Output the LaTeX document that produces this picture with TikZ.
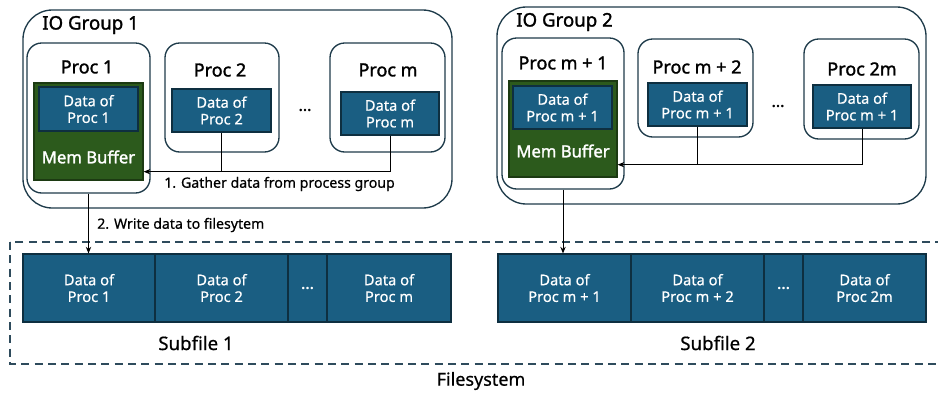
\documentclass[tikz,border=0pt]{standalone}
\usepackage{fontspec}
\setmainfont{Noto Sans}[BoldFont={Noto Sans}, BoldFeatures={FakeBold=1.6}]
\newfontfamily\medfam{Noto Sans}[FakeBold=0.6]
\usetikzlibrary{arrows.meta}
\definecolor{dblue}{HTML}{1A5E82}
\definecolor{dblueb}{HTML}{0E2F40}
\definecolor{dgreen}{HTML}{2C5A1C}
\definecolor{dgreenb}{HTML}{1C3A12}
\definecolor{grpb}{HTML}{1E3B4A}
\definecolor{dashc}{HTML}{2E4B5C}
\tikzset{
  sz/.style 2 args={minimum width=#1*0.75pt, minimum height=#2*0.75pt},
  grp/.style={draw=grpb, line width=1pt, rounded corners=22pt, inner sep=0pt},
  procbox/.style={draw=grpb, line width=1pt, rounded corners=11pt, inner sep=0pt},
  membox/.style={draw=dgreenb, fill=dgreen, line width=1pt, inner sep=0pt},
  databox/.style={draw=dblueb, fill=dblue, line width=1pt, inner sep=0pt, text=white,
     font=\medfam\fontsize{11}{12.5}\selectfont, align=center},
  cell/.style={draw=dblueb, fill=dblue, line width=0.8pt, inner sep=0pt, text=white,
     font=\medfam\fontsize{11}{12.5}\selectfont, align=center, minimum height=68*0.75pt},
  ttl/.style={font=\fontsize{13.5}{15}\selectfont\bfseries, inner sep=0pt},
  grpttl/.style={font=\fontsize{14}{15}\selectfont\bfseries, inner sep=0pt, anchor=west},
  memttl/.style={font=\fontsize{12.5}{14}\selectfont\bfseries, text=white, inner sep=0pt},
  lbl/.style={font=\medfam\fontsize{10.6}{12}\selectfont, inner sep=0pt, anchor=west},
  subttl/.style={font=\medfam\fontsize{14}{16}\selectfont, inner sep=0pt},
  conn/.style={draw=black, line width=0.75pt},
  arr/.style={conn, -{Stealth[length=5pt,width=4pt]}},
  dotsl/.style={font=\fontsize{12}{14}\selectfont\bfseries, inner sep=0pt},
}
\begin{document}
\begin{tikzpicture}[x=0.75pt,y=-0.75pt]
\useasboundingbox (0,0) rectangle (938,394);
% Filesystem
\draw[dashc, line width=1pt, dash pattern=on 6pt off 4pt] (10,242) rectangle (948,364);
\node[subttl, font=\medfam\fontsize{13.5}{15}\selectfont] (fs) at (481,381) {Filesystem};

% IO Group 1
\node[grp, sz={429}{198}] (g1) at (237.5,109) {};
\node[grpttl] (g1t) at (42,25) {IO Group 1};
\node[procbox, sz={123}{150}] (p1) at (88.5,118) {};
\node[ttl] (p1t) at (87,67) {Proc 1};
\node[membox, sz={109}{97}] (m1) at (88.5,131.5) {};
\node[databox, sz={99}{44}] (d1) at (88.5,109) {Data of\\Proc 1};
\node[memttl] (m1t) at (88.5,157) {Mem Buffer};
\node[procbox, sz={114}{109}] (p2) at (222,97.5) {};
\node[ttl] (p2t) at (220,70) {Proc 2};
\node[databox, sz={99}{43}] (d2) at (221.5,110.5) {Data of\\Proc 2};
\node[dotsl] (dt1) at (305,110) {...};
\node[procbox, sz={115}{109}] (pm) at (387.5,97.5) {};
\node[ttl] (pmt) at (388,70) {Proc m};
\node[databox, sz={98}{43}] (dm) at (390,113.5) {Data of\\Proc m};
\coordinate (j1) at ([yshift=9*0.75pt]m1.south east);
\draw[conn] (d2.south) -- (d2.south |- j1);
\draw[arr] (dm.south) |- (j1);
\node[lbl] (l1) at (164,184) {1. Gather data from process group};

% IO Group 2
\node[grp, sz={429}{197}] (g2) at (711.5,105.5) {};
\node[grpttl] (g2t) at (516,22) {IO Group 2};
\node[procbox, sz={122}{151}] (p3) at (563,113.5) {};
\node[ttl] (p3t) at (563,63) {Proc m + 1};
\node[membox, sz={108}{96}] (m3) at (563,129) {};
\node[databox, sz={99}{43}] (d3) at (562.5,107.5) {Data of\\Proc m + 1};
\node[memttl] (m3t) at (563,151) {Mem Buffer};
\node[procbox, sz={115}{98}] (p4) at (695.5,88) {};
\node[ttl] (p4t) at (697,67) {Proc m + 2};
\node[databox, sz={99}{43}] (d4) at (697.5,104.5) {Data of\\Proc m + 1};
\node[dotsl] (dt2) at (778,106) {...};
\node[procbox, sz={115}{100}] (p5) at (861.5,89) {};
\node[ttl] (p5t) at (862,69) {Proc 2m};
\node[databox, sz={98}{43}] (d5) at (862,106.5) {Data of\\Proc m + 1};
\coordinate (j2) at ([yshift=13*0.75pt]m3.south east);
\draw[conn] (d4.south) -- (d4.south |- j2);
\draw[arr] (d5.south) |- (j2);

% Subfile 1
\node[cell, minimum width=132*0.75pt] (c11) at (89,288) {Data of\\Proc 1};
\node[cell, minimum width=133*0.75pt] (c12) at (221.5,288) {Data of\\Proc 2};
\node[cell, minimum width=39*0.75pt, font=\fontsize{12}{14}\selectfont\bfseries] (c13) at (307.5,288) {...};
\node[cell, minimum width=124*0.75pt] (c14) at (389,288) {Data of\\Proc m};
\node[subttl] (s1) at (196,343) {Subfile 1};

% Subfile 2
\node[cell, minimum width=133*0.75pt] (c21) at (564.5,288) {Data of\\Proc m + 1};
\node[cell, minimum width=133*0.75pt] (c22) at (697.5,288) {Data of\\Proc m + 2};
\node[cell, minimum width=39*0.75pt, font=\fontsize{12}{14}\selectfont\bfseries] (c23) at (783.5,288) {...};
\node[cell, minimum width=123*0.75pt] (c24) at (864.5,288) {Data of\\Proc 2m};
\node[subttl] (s2) at (718,343) {Subfile 2};

% Write arrows
\draw[arr] (p1.south) -- (p1.south |- c11.north);
\node[lbl] (l2) at (97,225) {2. Write data to filesytem};
\draw[arr] (p3.south) -- (p3.south |- c21.north);
\end{tikzpicture}
\end{document}
